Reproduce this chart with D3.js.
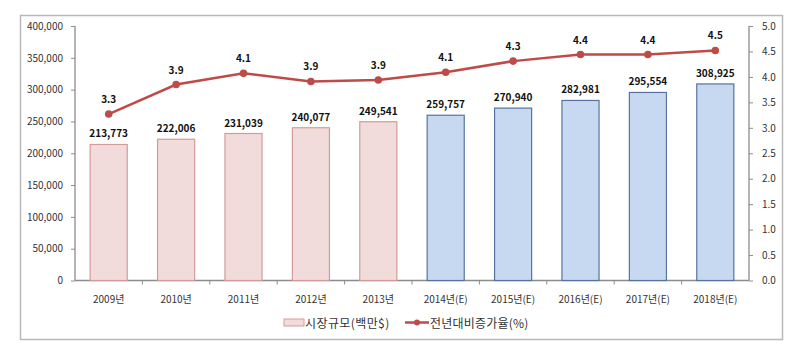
<!DOCTYPE html>
<html><head><meta charset="utf-8">
<script src="https://cdn.jsdelivr.net/npm/d3@7"></script>
<style>
html,body{margin:0;padding:0;background:#fff;}
text{font-family:"Noto Sans CJK KR","Noto Sans",sans-serif;}
</style></head>
<body><svg id="c" width="800" height="350"></svg>
<script>
const categories = ["2009년","2010년","2011년","2012년","2013년","2014년(E)","2015년(E)","2016년(E)","2017년(E)","2018년(E)"];
const marketSize = [213773,222006,231039,240077,249541,259757,270940,282981,295554,308925];
const growthRate = [3.27,3.85,4.07,3.91,3.94,4.09,4.31,4.44,4.44,4.52];
const isEstimate = [false,false,false,false,false,true,true,true,true,true];
const leftTicks = [0,50000,100000,150000,200000,250000,300000,350000,400000];
const rightTicks = [0,0.5,1,1.5,2,2.5,3,3.5,4,4.5,5];
const seriesNames = ["시장규모(백만$)","전년대비증가율(%)"];

const svg = d3.select("#c");
const L = 75, R = 749, T = 26, B = 280.5;

svg.append("rect").attr("x",20.5).attr("y",15.5).attr("width",762).attr("height",324)
  .attr("fill","#fff").attr("stroke","#b9b9b9").attr("stroke-width",1.5);

const x = d3.scaleBand().domain(categories).range([L,R]).paddingInner(0.45).paddingOuter(0.225);
const xb = d3.scaleBand().domain(categories).range([L,R]);
const yL = d3.scaleLinear().domain([0,400000]).range([B,T]);
const yR = d3.scaleLinear().domain([0,5]).range([B,T]);

// axes
const axisColor = "#8c8c8c";
const gl = svg.append("g").attr("transform",`translate(${L},0)`)
  .call(d3.axisLeft(yL).tickValues(leftTicks).tickFormat(d3.format(",")).tickSize(4).tickPadding(8));
const gr = svg.append("g").attr("transform",`translate(${R},0)`)
  .call(d3.axisRight(yR).tickValues(rightTicks).tickFormat(d3.format(".1f")).tickSize(4).tickPadding(9));
[gl,gr].forEach(g=>{
  g.select(".domain").attr("stroke",axisColor).attr("stroke-width",1.3);
  g.selectAll(".tick line").attr("stroke",axisColor);
  g.selectAll(".tick text").attr("fill","#333").style("font-size","10px").style("font-family",'"Noto Sans CJK KR","Noto Sans",sans-serif');
});
gl.select(".domain").attr("d",`M-0,${T}V${B}`);
gr.select(".domain").attr("d",`M0,${T}V${B}`);

// x axis
const gx = svg.append("g").attr("transform",`translate(0,${B})`);
gx.append("line").attr("x1",L).attr("x2",R).attr("stroke",axisColor).attr("stroke-width",1.3);
gx.selectAll("line.t").data(categories.slice(1)).join("line").attr("class","t")
  .attr("x1",d=>xb(d)).attr("x2",d=>xb(d)).attr("y1",0).attr("y2",4).attr("stroke",axisColor);
gx.selectAll("text").data(categories).join("text")
  .attr("x",d=>xb(d)+xb.bandwidth()/2).attr("y",22).attr("text-anchor","middle")
  .attr("fill","#333").style("font-size","10px").text(d=>d);

// bars
const pinkFill="#f2dcdb", pinkStroke="#d49a99", blueFill="#c6d9f1", blueStroke="#5673a0";
svg.append("g").selectAll("rect").data(categories).join("rect")
  .attr("x",d=>x(d)).attr("width",x.bandwidth())
  .attr("y",(d,i)=>yL(marketSize[i])).attr("height",(d,i)=>B-yL(marketSize[i]))
  .attr("fill",(d,i)=>isEstimate[i]?blueFill:pinkFill)
  .attr("stroke",(d,i)=>isEstimate[i]?blueStroke:pinkStroke).attr("stroke-width",1.2);
svg.append("g").selectAll("text").data(categories).join("text")
  .attr("x",d=>x(d)+x.bandwidth()/2).attr("y",(d,i)=>yL(marketSize[i])-7)
  .attr("text-anchor","middle").attr("fill","#111").style("font-size","10px").style("font-weight","bold")
  .text((d,i)=>d3.format(",")(marketSize[i]));

// line
const lineColor="#be4b48";
const line = d3.line().x((d,i)=>xb(categories[i])+xb.bandwidth()/2).y(d=>yR(d));
svg.append("path").datum(growthRate).attr("d",line).attr("fill","none").attr("stroke",lineColor).attr("stroke-width",2.5);
svg.append("g").selectAll("circle").data(growthRate).join("circle")
  .attr("cx",(d,i)=>xb(categories[i])+xb.bandwidth()/2).attr("cy",d=>yR(d)).attr("r",3.8).attr("fill",lineColor);
svg.append("g").selectAll("text").data(growthRate).join("text")
  .attr("x",(d,i)=>xb(categories[i])+xb.bandwidth()/2).attr("y",d=>yR(d)-11)
  .attr("text-anchor","middle").attr("fill","#111").style("font-size","10px").style("font-weight","bold")
  .text(d=>d.toFixed(1));

// legend
const lg = svg.append("g");
lg.append("rect").attr("x",284).attr("y",319).attr("width",20).attr("height",7)
  .attr("fill",pinkFill).attr("stroke",pinkStroke);
lg.append("text").attr("x",305).attr("y",327.5).attr("fill","#333").style("font-size","12px").style("letter-spacing","0.4px").text(seriesNames[0]);
lg.append("line").attr("x1",405).attr("x2",429).attr("y1",322.5).attr("y2",322.5).attr("stroke",lineColor).attr("stroke-width",2.5);
lg.append("circle").attr("cx",417).attr("cy",322.5).attr("r",3).attr("fill",lineColor);
lg.append("text").attr("x",430).attr("y",327.5).attr("fill","#333").style("font-size","12px").style("letter-spacing","0.2px").text(seriesNames[1]);
</script></body></html>
